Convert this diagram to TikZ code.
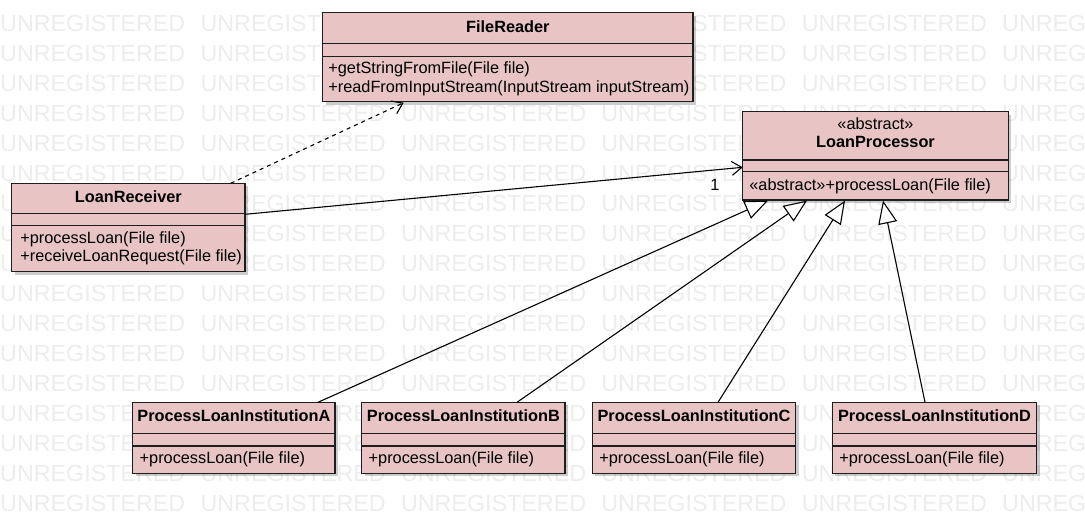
\documentclass[tikz,border=0pt]{standalone}
\usepackage{fontspec}
\setmainfont{Liberation Sans}
\usetikzlibrary{arrows.meta,shadows,calc}
\definecolor{clsfill}{RGB}{232,196,196}
\definecolor{clsline}{RGB}{30,30,30}
\definecolor{wm}{RGB}{237,237,237}
\newcommand{\umlbox}[7]{%
  \node[cls, minimum width=#4, minimum height=#5] (#1) at (#2,#3) {};
  \draw[sep] ($(#1.north west)+(0,#6)$) -- ($(#1.north east)+(0,#6)$);
  \draw[sep] ($(#1.north west)+(0,#7)$) -- ($(#1.north east)+(0,#7)$);
}
\begin{document}
\begin{tikzpicture}[x=1pt,y=-1pt,
  cls/.style={draw=clsline, line width=1.2pt, fill=clsfill, inner sep=0pt, outer sep=0pt, anchor=north west,
    drop shadow={shadow xshift=3pt, shadow yshift=-3pt, fill=black, opacity=0.2}},
  sep/.style={draw=clsline, line width=1.2pt},
  ttl/.style={font=\fontsize{16.3}{19}\selectfont\bfseries, inner sep=0pt, text height=11.5pt, text depth=3.5pt},
  stereo/.style={font=\fontsize{16.3}{19}\selectfont, inner sep=0pt, text height=11.5pt, text depth=3.5pt},
  meth/.style={font=\fontsize{16.3}{19}\selectfont, inner sep=0pt, anchor=west, text height=11.5pt, text depth=3.5pt},
  wmtext/.style={font=\fontsize{23.3}{28}\selectfont, text=wm, inner sep=0pt, anchor=base west},
  assoc/.style={draw=black, line width=1.1pt, -{Straight Barb[length=10pt,width=14pt,line width=1.1pt]}},
  dep/.style={draw=black, line width=1.1pt, dash pattern=on 4pt off 4pt, -{Straight Barb[length=10pt,width=14pt,line width=1.1pt]}},
  gen/.style={draw=black, line width=1.1pt, -{Triangle[open, length=23pt, width=19pt, fill=white, line width=1.1pt]}},
  lbl/.style={font=\fontsize{16.3}{19}\selectfont, inner sep=0pt}
]
\fill[white] (0,0) rectangle (1085,523);
\useasboundingbox (0,0) rectangle (1085,523);
% watermark
\foreach \k in {0,...,16}{
  \foreach \j in {0,...,5}{
    \node[wmtext] (wm-\k-\j) at ({200.4*\j},{31.7+30*\k}) {UNREGISTERED};
  }
}
% classes
\umlbox{fr}{322.7}{12.7}{370.3}{89}{30.6}{44}
\umlbox{lp}{742.7}{111.7}{265.6}{88.3}{48.3}{60}
\umlbox{lr}{11.7}{183.3}{233.3}{88.4}{30}{42.4}
\umlbox{pa}{132.7}{402.3}{202.3}{71}{31}{43.7}
\umlbox{pb}{361.7}{402.3}{203.3}{71}{31}{43.7}
\umlbox{pc}{592.3}{402.3}{203.4}{71}{31}{43.7}
\umlbox{pd}{832.3}{402.3}{204.4}{71}{31}{43.7}
% texts
\node[ttl] (frt) at ($(fr.north)+(0,15.3)$) {FileReader};
\node[meth] (frm1) at ($(fr.north west)+(5.5,56.7)$) {+getStringFromFile(File file)};
\node[meth] (frm2) at ($(fr.north west)+(5.5,76)$) {+readFromInputStream(InputStream inputStream)};
\node[stereo] (lps) at ($(lp.north)+(0,14)$) {«abstract»};
\node[ttl] (lpt) at ($(lp.north)+(0,32)$) {LoanProcessor};
\node[meth] (lpm) at ($(lp.north west)+(6.5,74.5)$) {«abstract»+processLoan(File file)};
\node[ttl] (lrt) at ($(lr.north)+(0,15)$) {LoanReceiver};
\node[meth] (lrm1) at ($(lr.north west)+(8.5,56)$) {+processLoan(File file)};
\node[meth] (lrm2) at ($(lr.north west)+(8.5,74.5)$) {+receiveLoanRequest(File file)};
\foreach \b/\s in {pa/A,pb/B,pc/C,pd/D}{
  \node[ttl] (\b t) at ($(\b.north)+(0,15.5)$) {ProcessLoanInstitution\s};
  \node[meth] (\b m) at ($(\b.north west)+(6.8,57)$) {+processLoan(File file)};
}
% connectors
\draw[dep] ($(lr.north west)+(219,0)$) -- ($(fr.south west)+(81,1)$);
\draw[assoc] ($(lr.north east)+(0,31)$) -- ($(lp.north west)+(0,55.6)$);
\node[lbl] (one) at (715,185) {1};
\draw[gen] ($(pa.north west)+(185.3,0)$) -- ($(lp.south west)+(25.3,0.6)$);
\draw[gen] ($(pb.north west)+(155.3,0)$) -- ($(lp.south west)+(64.3,0.6)$);
\draw[gen] ($(pc.north west)+(125.7,0)$) -- ($(lp.south west)+(102.3,0.6)$);
\draw[gen] ($(pd.north west)+(92.7,0)$) -- ($(lp.south west)+(140.3,0.6)$);
\end{tikzpicture}
\end{document}
